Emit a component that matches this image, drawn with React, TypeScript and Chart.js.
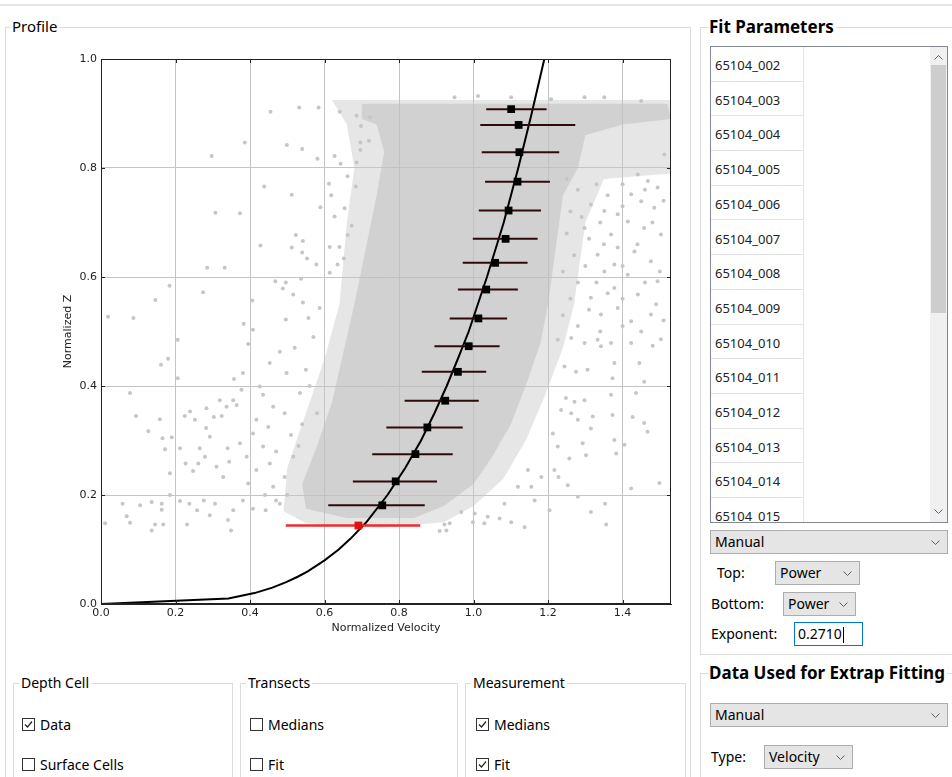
import React, { useEffect, useRef } from 'react';
import { Chart, registerables } from 'chart.js';

Chart.register(...registerables);

// ---------- data (Normalized Velocity, Normalized Z) ----------
const xTickValues = [0, 0.2, 0.4, 0.6, 0.8, 1.0, 1.2, 1.4];
const yTickValues = [0, 0.2, 0.4, 0.6, 0.8, 1.0];

// power fit curve (exponent 0.2710)
const fitV = [0, 0.342, 0.412, 0.46, 0.497, 0.528, 0.555, 0.6, 0.638, 0.67, 0.712, 0.769, 0.817, 0.859, 0.895, 0.928, 0.958, 0.987, 1.036, 1.081, 1.12, 1.156, 1.19];
const fitZ = [0, 0.01, 0.02, 0.03, 0.04, 0.05, 0.06, 0.08, 0.1, 0.12, 0.15, 0.2, 0.25, 0.3, 0.35, 0.4, 0.45, 0.5, 0.6, 0.7, 0.8, 0.9, 1.0];

// measurement medians with horizontal error bars
const medianV = [1.101, 1.121, 1.123, 1.118, 1.094, 1.086, 1.058, 1.034, 1.013, 0.987, 0.958, 0.924, 0.876, 0.844, 0.791, 0.755];
const medianZ = [0.908, 0.879, 0.829, 0.775, 0.722, 0.670, 0.626, 0.577, 0.524, 0.473, 0.426, 0.373, 0.324, 0.275, 0.225, 0.181];
const medianLow = [1.034, 1.018, 1.022, 1.031, 1.014, 0.998, 0.971, 0.958, 0.936, 0.895, 0.861, 0.815, 0.766, 0.728, 0.676, 0.610];
const medianHigh = [1.196, 1.273, 1.230, 1.205, 1.181, 1.172, 1.145, 1.119, 1.090, 1.070, 1.034, 1.014, 0.971, 0.944, 0.902, 0.869];

// excluded (red) median
const excludedV = [0.691];
const excludedZ = [0.144];
const excludedLow = [0.496];
const excludedHigh = [0.857];

// envelope of the densest part of the depth-cell cloud
const denseV = [0.70, 1.52, 1.53, 1.40, 1.30, 1.28, 1.24, 1.22, 1.20, 1.18, 1.14, 1.10, 1.05, 1.00, 0.92, 0.84, 0.66, 0.55, 0.54, 0.58, 0.62, 0.65, 0.68, 0.71, 0.74, 0.76, 0.74, 0.70];
const denseZ = [0.918, 0.918, 0.89, 0.88, 0.86, 0.80, 0.75, 0.65, 0.55, 0.48, 0.40, 0.33, 0.27, 0.22, 0.18, 0.158, 0.158, 0.175, 0.22, 0.29, 0.37, 0.46, 0.55, 0.65, 0.75, 0.83, 0.88, 0.89];

// envelope of the medium-density part of the cloud
const mediumV = [0.62, 1.53, 1.53, 1.35, 1.30, 1.27, 1.24, 1.19, 1.14, 1.08, 1.00, 0.92, 0.75, 0.55, 0.49, 0.50, 0.55, 0.60, 0.64, 0.66, 0.68, 0.66, 0.62];
const mediumZ = [0.925, 0.925, 0.79, 0.78, 0.70, 0.55, 0.47, 0.38, 0.30, 0.23, 0.18, 0.15, 0.14, 0.148, 0.17, 0.25, 0.35, 0.45, 0.55, 0.70, 0.80, 0.88, 0.925];

// individual (sparse) depth cells [velocity, z]
const sparseCells: [number, number][] = [
  [0.455, 0.903], [0.532, 0.911], [0.584, 0.911], [0.641, 0.903], [0.386, 0.847], [0.297, 0.822], [0.499, 0.842], [0.540, 0.835],
  [0.581, 0.817], [0.627, 0.822], [0.438, 0.766], [0.512, 0.751], [0.307, 0.718], [0.373, 0.717], [0.589, 0.728], [0.627, 0.711],
  [0.428, 0.658], [0.512, 0.654], [0.523, 0.677], [0.542, 0.666], [0.540, 0.645], [0.553, 0.634], [0.578, 0.623], [0.285, 0.617],
  [0.332, 0.617], [0.184, 0.584], [0.146, 0.558], [0.274, 0.572], [0.019, 0.527], [0.087, 0.525], [0.383, 0.514], [0.406, 0.557],
  [0.468, 0.592], [0.496, 0.590], [0.488, 0.579], [0.516, 0.568], [0.542, 0.553], [0.496, 0.522], [0.557, 0.525], [0.537, 0.597],
  [0.587, 0.543], [0.612, 0.771], [0.618, 0.750], [0.662, 0.785], [0.684, 0.766], [0.654, 0.726], [0.673, 0.694], [0.662, 0.677],
  [0.614, 0.655], [0.640, 0.655], [0.652, 0.634], [0.635, 0.623], [0.614, 0.608], [0.686, 0.896], [0.698, 0.877], [0.696, 0.847],
  [0.696, 0.833], [0.643, 0.808], [0.686, 0.810], [0.722, 0.893], [0.719, 0.850],
  [0.161, 0.439], [0.180, 0.450], [0.206, 0.485], [0.206, 0.414], [0.078, 0.387], [0.094, 0.345], [0.127, 0.317], [0.158, 0.339],
  [0.165, 0.304], [0.190, 0.306], [0.172, 0.284], [0.185, 0.240], [0.212, 0.286], [0.227, 0.258], [0.225, 0.345], [0.239, 0.353],
  [0.252, 0.338], [0.283, 0.359], [0.282, 0.323], [0.303, 0.343], [0.319, 0.374], [0.337, 0.362], [0.355, 0.374], [0.364, 0.365],
  [0.324, 0.345], [0.292, 0.307], [0.265, 0.286], [0.279, 0.270], [0.247, 0.244], [0.261, 0.258], [0.310, 0.252], [0.328, 0.233],
  [0.340, 0.286], [0.344, 0.261], [0.373, 0.295], [0.377, 0.393], [0.357, 0.413], [0.381, 0.424], [0.395, 0.477], [0.408, 0.503],
  [0.408, 0.313], [0.391, 0.270], [0.395, 0.221], [0.417, 0.246], [0.381, 0.190], [0.058, 0.184], [0.105, 0.181], [0.136, 0.187],
  [0.163, 0.184], [0.163, 0.173], [0.069, 0.161], [0.078, 0.149], [0.136, 0.135], [0.145, 0.146], [0.167, 0.146], [0.011, 0.148],
  [0.231, 0.146], [0.212, 0.189], [0.237, 0.184], [0.258, 0.172], [0.276, 0.190], [0.292, 0.163], [0.306, 0.184], [0.341, 0.154],
  [0.349, 0.135], [0.355, 0.172], [0.185, 0.200], [0.426, 0.399], [0.453, 0.442], [0.435, 0.384], [0.417, 0.338], [0.449, 0.325],
  [0.480, 0.463], [0.498, 0.424], [0.435, 0.289], [0.453, 0.258], [0.462, 0.215], [0.408, 0.175], [0.442, 0.172], [0.480, 0.184],
  [0.493, 0.233], [0.516, 0.270], [0.462, 0.362], [0.493, 0.350], [0.534, 0.387], [0.52, 0.47], [0.55, 0.43], [0.57, 0.49],
  [0.51, 0.31], [0.53, 0.29], [0.47, 0.28], [0.50, 0.20], [0.44, 0.20], [0.47, 0.19], [0.56, 0.40], [0.58, 0.35], [0.54, 0.33],
  [1.226, 0.485], [1.262, 0.488], [1.298, 0.479], [1.342, 0.473], [1.369, 0.479], [1.423, 0.479], [1.481, 0.474], [1.503, 0.486],
  [1.378, 0.442], [1.445, 0.442], [1.373, 0.414], [1.306, 0.430], [1.275, 0.426], [1.244, 0.436], [1.458, 0.408], [1.369, 0.384],
  [1.436, 0.387], [1.271, 0.371], [1.298, 0.374], [1.248, 0.378], [1.235, 0.356], [1.262, 0.350], [1.280, 0.338], [1.320, 0.344],
  [1.315, 0.322], [1.373, 0.347], [1.427, 0.343], [1.458, 0.332], [1.467, 0.316], [1.405, 0.292], [1.378, 0.301], [1.383, 0.276],
  [1.302, 0.273], [1.293, 0.295], [1.257, 0.267], [1.226, 0.289], [1.217, 0.246], [1.253, 0.218], [1.228, 0.233], [1.423, 0.212],
  [1.499, 0.222], [1.280, 0.197], [1.315, 0.169], [1.353, 0.184], [1.356, 0.146], [1.204, 0.172], [1.164, 0.190], [1.137, 0.141],
  [1.101, 0.150], [1.070, 0.157], [1.038, 0.160], [1.003, 0.166], [0.998, 0.150], [0.936, 0.148], [0.927, 0.135], [0.909, 0.134],
  [0.922, 0.146], [1.029, 0.148], [0.967, 0.169], [1.155, 0.215], [1.182, 0.233], [1.146, 0.246], [1.119, 0.215], [1.083, 0.184],
  [1.213, 0.313], [1.333, 0.485],
  [1.441, 0.788], [1.468, 0.776], [1.494, 0.764], [1.423, 0.752], [1.450, 0.739], [1.485, 0.727], [1.387, 0.715], [1.414, 0.702],
  [1.458, 0.690], [1.503, 0.678], [1.369, 0.678], [1.387, 0.654], [1.432, 0.647], [1.476, 0.629], [1.378, 0.623], [1.351, 0.610],
  [1.414, 0.604], [1.494, 0.592], [1.378, 0.580], [1.441, 0.568], [1.387, 0.543], [1.342, 0.531], [1.476, 0.531], [1.423, 0.519],
  [1.315, 0.562], [1.333, 0.641], [1.298, 0.690], [1.315, 0.733], [1.351, 0.721], [1.512, 0.825], [1.298, 0.930], [1.208, 0.926],
  [1.351, 0.930], [1.450, 0.923], [0.949, 0.930], [1.012, 0.932], [1.101, 0.930],
  [1.25, 0.78], [1.28, 0.76], [1.33, 0.77], [1.36, 0.75], [1.26, 0.72], [1.29, 0.71], [1.34, 0.70], [1.25, 0.68],
  [1.31, 0.67], [1.27, 0.64], [1.30, 0.62], [1.35, 0.66], [1.24, 0.61], [1.28, 0.59], [1.33, 0.59], [1.26, 0.56],
  [1.31, 0.54], [1.36, 0.57], [1.24, 0.53], [1.28, 0.51], [1.34, 0.50], [1.40, 0.51], [1.45, 0.50], [1.40, 0.56],
  [1.46, 0.59], [1.40, 0.62], [1.44, 0.66], [1.48, 0.70], [1.40, 0.73], [1.46, 0.76], [1.40, 0.77], [1.51, 0.74],
  [1.50, 0.61], [1.51, 0.52], [1.49, 0.55],
];

const runIds = ['65104_002', '65104_003', '65104_004', '65104_005', '65104_006', '65104_007', '65104_008', '65104_009', '65104_010', '65104_011', '65104_012', '65104_013', '65104_014', '65104_015'];

// ---------- chart ----------
const framePlugin = {
  id: 'mplFrame',
  afterDatasetsDraw(chart: any) {
    const { ctx, chartArea: a, scales } = chart;
    ctx.save();
    ctx.strokeStyle = '#222';
    ctx.lineWidth = 1;
    ctx.strokeRect(Math.round(a.left) + 0.5, Math.round(a.top) + 0.5, Math.round(a.right - a.left) - 1, Math.round(a.bottom - a.top) - 1);
    ctx.beginPath();
    scales.x.ticks.forEach((t: any) => {
      const px = Math.round(scales.x.getPixelForValue(t.value)) + 0.5;
      ctx.moveTo(px, a.bottom); ctx.lineTo(px, a.bottom - 4);
      ctx.moveTo(px, a.top); ctx.lineTo(px, a.top + 4);
    });
    scales.y.ticks.forEach((t: any) => {
      const py = Math.round(scales.y.getPixelForValue(t.value)) + 0.5;
      ctx.moveTo(a.left, py); ctx.lineTo(a.left + 4, py);
      ctx.moveTo(a.right, py); ctx.lineTo(a.right - 4, py);
    });
    ctx.stroke();
    ctx.restore();
  },
};

function ProfileChart() {
  const ref = useRef<HTMLCanvasElement | null>(null);
  useEffect(() => {
    if (!ref.current) return;
    const font = { family: 'DejaVu Sans', size: 11 };
    const errorBars = medianV.map((_, i) => ({
      type: 'line' as const,
      data: [{ x: medianLow[i], y: medianZ[i] }, { x: medianHigh[i], y: medianZ[i] }],
      borderColor: '#2e0b0b',
      borderWidth: 2,
      pointRadius: 0,
      fill: false,
      order: 2,
    }));
    const chart = new Chart(ref.current, {
      type: 'scatter',
      data: {
        datasets: [
          {
            type: 'line',
            data: mediumV.map((v, i) => ({ x: v, y: mediumZ[i] })),
            backgroundColor: 'rgba(200,200,200,0.45)',
            borderWidth: 0,
            pointRadius: 0,
            fill: 'shape',
            order: 7,
          } as any,
          {
            type: 'line',
            data: denseV.map((v, i) => ({ x: v, y: denseZ[i] })),
            backgroundColor: 'rgba(190,190,190,0.52)',
            borderWidth: 0,
            pointRadius: 0,
            fill: 'shape',
            order: 6,
          } as any,
          {
            data: sparseCells.map(([v, z]) => ({ x: v, y: z })),
            backgroundColor: '#c6c6c6',
            borderWidth: 0,
            pointRadius: 2,
            order: 5,
          },
          {
            type: 'line',
            data: fitV.map((v, i) => ({ x: v, y: fitZ[i] })),
            borderColor: '#000',
            borderWidth: 2,
            pointRadius: 0,
            fill: false,
            tension: 0,
            order: 3,
          } as any,
          ...errorBars,
          {
            type: 'line',
            data: [{ x: excludedLow[0], y: excludedZ[0] }, { x: excludedHigh[0], y: excludedZ[0] }],
            borderColor: '#f22a2a',
            borderWidth: 2.5,
            pointRadius: 0,
            fill: false,
            order: 2,
          } as any,
          {
            data: medianV.map((v, i) => ({ x: v, y: medianZ[i] })),
            backgroundColor: '#000',
            borderWidth: 0,
            pointStyle: 'rect',
            pointRadius: 5.5,
            order: 1,
          },
          {
            data: excludedV.map((v, i) => ({ x: v, y: excludedZ[i] })),
            backgroundColor: '#e01010',
            borderWidth: 0,
            pointStyle: 'rect',
            pointRadius: 5.5,
            order: 1,
          },
        ],
      },
      options: {
        animation: false,
        responsive: false,
        events: [],
        layout: { padding: { top: 14, right: 14, left: 0, bottom: 0 } },
        plugins: { legend: { display: false }, tooltip: { enabled: false } },
        scales: {
          x: {
            type: 'linear',
            min: 0,
            max: 1.53,
            afterFit: (s: any) => { s.height = 41; },
            afterBuildTicks: (s: any) => { s.ticks = xTickValues.map((v) => ({ value: v })); },
            ticks: { font, color: '#222', padding: 3, autoSkip: false, maxRotation: 0, includeBounds: false, callback: (v: any) => Number(v).toFixed(1) },
            grid: { color: '#c4c4c4', lineWidth: 1, drawTicks: false },
            border: { display: true, color: '#222' },
            title: { display: true, text: 'Normalized Velocity', font, color: '#222', padding: { top: 0, bottom: 10 } },
          },
          y: {
            type: 'linear',
            min: 0,
            max: 1.0,
            afterFit: (s: any) => { s.width = 46; },
            afterBuildTicks: (s: any) => { s.ticks = yTickValues.map((v) => ({ value: v })); },
            ticks: { font, color: '#222', padding: 4, autoSkip: false, callback: (v: any) => Number(v).toFixed(1) },
            grid: { color: '#c4c4c4', lineWidth: 1, drawTicks: false },
            border: { display: true, color: '#222' },
            title: { display: true, text: 'Normalized Z', font, color: '#222', padding: { top: 7, bottom: 0 } },
          },
        },
      },
      plugins: [framePlugin],
    } as any);
    return () => chart.destroy();
  }, []);
  return (
    <canvas
      ref={ref}
      width={630}
      height={600}
      style={{ position: 'absolute', left: 55, top: 45, width: 630, height: 600 }}
    />
  );
}

// ---------- widgets ----------
const abs = (o: React.CSSProperties): React.CSSProperties => ({ position: 'absolute', ...o });

function Group({ left, top, width, height, title, bold }: { left: number; top: number; width: number; height: number; title: string; bold?: boolean }) {
  return (
    <>
      <div style={abs({ left, top, width, height, border: '1px solid #dcdcdc', boxSizing: 'border-box' })} />
      <div style={abs({ left: left + (bold ? 9 : 6), top: top - 12, background: '#fff', padding: bold ? '0 2px 0 0' : '0 2px', fontSize: bold ? 17 : 14, fontWeight: bold ? 700 : 400, lineHeight: '23px', color: '#000', whiteSpace: 'nowrap' })}>{title}</div>
    </>
  );
}

function Chevron({ right, top, up }: { right: number; top: number; up?: boolean }) {
  return (
    <svg style={abs({ right, top })} width={9} height={5}>
      <polyline points={up ? '0.5,4.5 4.5,0.5 8.5,4.5' : '0.5,0.5 4.5,4.5 8.5,0.5'} fill="none" stroke="#606060" strokeWidth={1} />
    </svg>
  );
}

function Combo({ left, top, width, text }: { left: number; top: number; width: number; text: string }) {
  return (
    <div style={abs({ left, top, width, height: 24, boxSizing: 'border-box', background: '#e5e5e5', border: '1px solid #adadad', fontSize: 14, lineHeight: '22px', paddingLeft: 4, color: '#000' })}>
      {text}
      <Chevron right={7} top={9} />
    </div>
  );
}

function Label({ left, top, text }: { left: number; top: number; text: string }) {
  return <div style={abs({ left, top, fontSize: 14, lineHeight: '20px', color: '#000', whiteSpace: 'nowrap' })}>{text}</div>;
}

function Check({ left, top, checked, label }: { left: number; top: number; checked: boolean; label: string }) {
  return (
    <div style={abs({ left, top, height: 20, display: 'flex', alignItems: 'center', fontSize: 14, color: '#000', whiteSpace: 'nowrap' })}>
      <div style={{ width: 13, height: 13, border: '1px solid #333', boxSizing: 'border-box', marginRight: 5, position: 'relative', background: '#fff' }}>
        {checked && (
          <svg style={abs({ left: 1, top: 1 })} width={9} height={9}>
            <polyline points="1,4.5 3.5,7 8,1.5" fill="none" stroke="#222" strokeWidth={1.2} />
          </svg>
        )}
      </div>
      {label}
    </div>
  );
}

function RunList() {
  const rowH = 34.7;
  return (
    <div style={abs({ left: 710, top: 46, width: 238, height: 477, border: '1px solid #828790', boxSizing: 'border-box', background: '#fff', overflow: 'hidden' })}>
      {runIds.map((id, i) => (
        <div key={id} style={abs({ left: 0, top: i * rowH, width: 93, height: rowH, boxSizing: 'border-box', borderRight: '1px solid #e3e3e3', borderBottom: '1px solid #e3e3e3', fontSize: 13, lineHeight: `${rowH - 1}px`, paddingLeft: 4, paddingTop: 2, color: '#222' })}>{id}</div>
      ))}
      <div style={abs({ right: 0, top: 0, width: 17, height: 475, background: '#f0f0f0' })}>
        <Chevron right={4} top={8} up />
        <div style={abs({ left: 1, top: 18, width: 15, height: 248, background: '#cdcdcd' })} />
        <Chevron right={4} top={462} />
      </div>
    </div>
  );
}

export default function App() {
  return (
    <div style={abs({ left: 0, top: 0, width: 952, height: 777, overflow: 'hidden', background: '#fff', fontFamily: '"Noto Sans", sans-serif' })}>
      <div style={abs({ left: 0, top: 4, width: 952, height: 2, background: '#e6e6e6' })} />

      <div style={abs({ left: 5, top: 27, width: 686, height: 800, border: '1px solid #dcdcdc', boxSizing: 'border-box' })} />
      <div style={abs({ left: 10, top: 15, background: '#fff', padding: '0 2px', fontSize: 15, lineHeight: '23px', color: '#000' })}>Profile</div>
      <ProfileChart />

      <Group left={13} top={683} width={220} height={120} title="Depth Cell" />
      <Check left={22} top={714} checked label="Data" />
      <Check left={22} top={754} checked={false} label="Surface Cells" />

      <Group left={240} top={683} width={218} height={120} title="Transects" />
      <Check left={250} top={714} checked={false} label="Medians" />
      <Check left={250} top={754} checked={false} label="Fit" />

      <Group left={465} top={683} width={221} height={120} title="Measurement" />
      <Check left={476} top={714} checked label="Medians" />
      <Check left={476} top={754} checked label="Fit" />

      <Group left={700} top={27} width={270} height={628} title="Fit Parameters" bold />
      <RunList />
      <Combo left={710} top={530} width={238} text="Manual" />
      <Label left={717} top={563} text="Top:" />
      <Combo left={775} top={561} width={85} text="Power" />
      <Label left={711} top={594} text="Bottom:" />
      <Combo left={783} top={592} width={73} text="Power" />
      <Label left={711} top={624} text="Exponent:" />
      <div style={abs({ left: 794, top: 622, width: 69, height: 24, boxSizing: 'border-box', border: '1px solid #0078d7', background: '#fff', fontSize: 14, lineHeight: '22px', paddingLeft: 3, color: '#000' })}>
        0.2710<span style={{ display: 'inline-block', width: 1, height: 16, background: '#000', verticalAlign: 'middle', marginLeft: 1 }} />
      </div>

      <Group left={700} top={673} width={270} height={140} title="Data Used for Extrap Fitting" bold />
      <Combo left={710} top={703} width={238} text="Manual" />
      <Label left={711} top={747} text="Type:" />
      <Combo left={764} top={745} width={89} text="Velocity" />
    </div>
  );
}
